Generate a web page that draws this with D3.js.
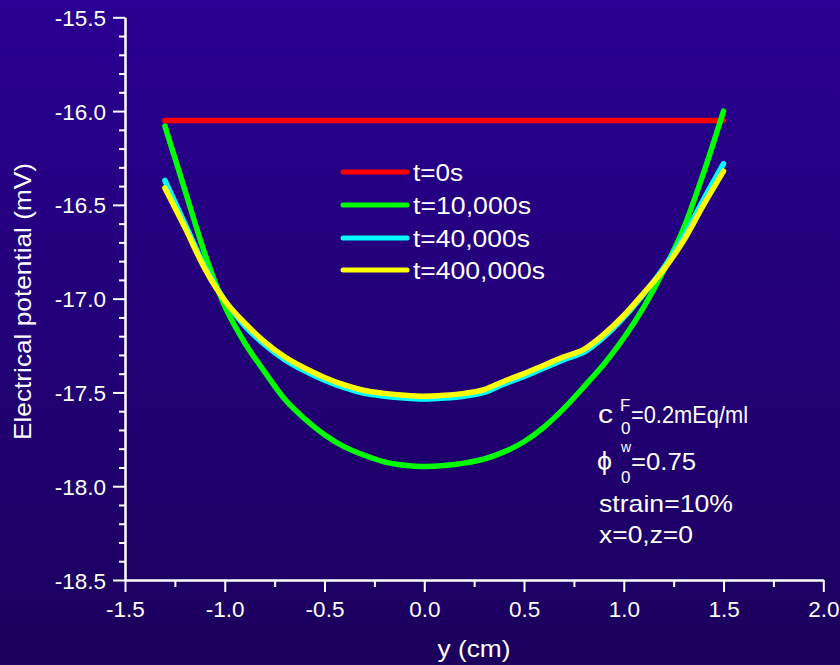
<!DOCTYPE html>
<html><head><meta charset="utf-8">
<script src="https://cdn.jsdelivr.net/npm/d3@7"></script>
<style>html,body{margin:0;padding:0;background:#22007a;} svg{display:block;}</style>
</head><body>
<script>
// ---- data ----
const positions = [-1.3,-1.2,-1.1,-1.0,-0.9,-0.8,-0.7,-0.6,-0.5,-0.4,-0.3,-0.2,-0.1,0.0,0.1,0.2,0.3,0.4,0.5,0.6,0.7,0.8,0.9,1.0,1.1,1.2,1.3,1.4,1.5];
const seriesNames = ["t=0s","t=10,000s","t=40,000s","t=400,000s"];
const t0s = [-16.05,-16.05,-16.05,-16.05,-16.05,-16.05,-16.05,-16.05,-16.05,-16.05,-16.05,-16.05,-16.05,-16.05,-16.05,-16.05,-16.05,-16.05,-16.05,-16.05,-16.05,-16.05,-16.05,-16.05,-16.05,-16.05,-16.05,-16.05,-16.05];
const t10000s = [-16.08,-16.42,-16.76,-17.04,-17.235,-17.39,-17.535,-17.64,-17.725,-17.79,-17.835,-17.87,-17.888,-17.895,-17.89,-17.877,-17.855,-17.817,-17.763,-17.685,-17.585,-17.47,-17.35,-17.21,-17.045,-16.85,-16.625,-16.33,-16.00];
const t40000s = [-16.37,-16.60,-16.83,-17.01,-17.145,-17.245,-17.325,-17.385,-17.435,-17.475,-17.505,-17.52,-17.53,-17.535,-17.53,-17.52,-17.50,-17.455,-17.415,-17.37,-17.325,-17.285,-17.205,-17.10,-16.975,-16.835,-16.67,-16.47,-16.28];
const t400000s = [-16.41,-16.62,-16.84,-17.01,-17.13,-17.23,-17.31,-17.37,-17.42,-17.46,-17.49,-17.505,-17.515,-17.52,-17.515,-17.505,-17.485,-17.44,-17.40,-17.355,-17.31,-17.27,-17.19,-17.09,-16.97,-16.845,-16.69,-16.50,-16.32];
const xTicks = [-1.5,-1.0,-0.5,0.0,0.5,1.0,1.5,2.0];
const yTicks = [-18.5,-18.0,-17.5,-17.0,-16.5,-16.0,-15.5];
const xTickLabels = ["-1.5","-1.0","-0.5","0.0","0.5","1.0","1.5","2.0"];
const yTickLabels = ["-18.5","-18.0","-17.5","-17.0","-16.5","-16.0","-15.5"];
const xTitle = "y (cm)";
const yTitle = "Electrical potential (mV)";

// ---- setup ----
const W = 840, H = 665;
const colors = ["#ff0000","#00ff00","#00ffff","#ffff00"];
const allSeries = [t0s, t10000s, t40000s, t400000s];
const FONT = "'Liberation Sans', Arial, Helvetica, sans-serif";

const svg = d3.select("body").append("svg").attr("width", W).attr("height", H);
const defs = svg.append("defs");
const grad = defs.append("linearGradient").attr("id","bg").attr("x1",0).attr("y1",0).attr("x2",0).attr("y2",1);
grad.append("stop").attr("offset","0%").attr("stop-color","#2a0092");
grad.append("stop").attr("offset","100%").attr("stop-color","#1b005d");
svg.append("rect").attr("width",W).attr("height",H).attr("fill","url(#bg)");

const x = d3.scaleLinear().domain([-1.5, 2.0]).range([125, 823.3]);
const y = d3.scaleLinear().domain([-18.5, -15.5]).range([580, 17.3]);

// minor ticks
const yMinor = d3.range(-18.5, -15.45, 0.1).map(v => +v.toFixed(1)).filter(v => !yTicks.some(t => Math.abs(t - v) < 1e-6));
const xMinor = d3.range(-1.5, 2.01, 0.25).map(v => +v.toFixed(2)).filter(v => !xTicks.some(t => Math.abs(t - v) < 1e-6));

const gY = svg.append("g").attr("transform", "translate(125,0)");
gY.call(d3.axisLeft(y).tickValues(yMinor).tickSize(6).tickSizeOuter(0).tickFormat(""));
gY.append("g").call(d3.axisLeft(y).tickValues(yTicks).tickSize(12).tickSizeOuter(0)
   .tickFormat((d,i) => yTickLabels[i]));
const gX = svg.append("g").attr("transform", "translate(0,580)");
gX.call(d3.axisBottom(x).tickValues(xMinor).tickSize(7).tickSizeOuter(0).tickFormat(""));
gX.append("g").call(d3.axisBottom(x).tickValues(xTicks).tickSize(12).tickSizeOuter(0)
   .tickFormat((d,i) => xTickLabels[i]));

svg.selectAll(".domain").attr("stroke","#ffffff").attr("stroke-width",2);
svg.selectAll(".tick line").attr("stroke","#ffffff").attr("stroke-width",2);
svg.selectAll(".tick text").attr("fill","#ffffff").style("font-family", FONT).style("font-size","22.5px");
gY.selectAll(".tick text").attr("x", -19).attr("dy", "0.36em");
gX.selectAll(".tick text").attr("y", 37).attr("dy", null);

// axis titles
svg.append("text").attr("x", 474).attr("y", 657).attr("text-anchor","middle")
  .attr("fill","#fff").style("font-family",FONT).style("font-size","24px")
  .attr("textLength", 73).attr("lengthAdjust","spacingAndGlyphs").text(xTitle);
svg.append("text").attr("transform","translate(31,301.5) rotate(-90)").attr("text-anchor","middle")
  .attr("fill","#fff").style("font-family",FONT).style("font-size","24px")
  .attr("textLength", 277).attr("lengthAdjust","spacingAndGlyphs").text(yTitle);

// lines
const line = d3.line().x((d,i) => x(positions[i])).y(d => y(d)).curve(d3.curveMonotoneX);
allSeries.forEach((s, k) => {
  svg.append("path").datum(s).attr("d", line).attr("fill","none")
    .attr("stroke", colors[k]).attr("stroke-width", 5.5)
    .attr("stroke-linecap","round").attr("stroke-linejoin","round");
});

// legend
const legendY = [172, 205, 238, 270];
const legendW = [50, 118, 117, 132];
seriesNames.forEach((n, k) => {
  svg.append("line").attr("x1",343).attr("x2",407).attr("y1",legendY[k]).attr("y2",legendY[k])
    .attr("stroke",colors[k]).attr("stroke-width",5).attr("stroke-linecap","round");
  svg.append("text").attr("x",413).attr("y",legendY[k]+9).attr("fill","#fff")
    .style("font-family",FONT).style("font-size","23.5px")
    .attr("textLength", legendW[k]).attr("lengthAdjust","spacingAndGlyphs").text(n);
});

// annotations
function t(xp, yp, str, size, len) {
  const e = svg.append("text").attr("x",xp).attr("y",yp).attr("fill","#fff")
    .style("font-family",FONT).style("font-size",size+"px").text(str);
  if (len) e.attr("textLength",len).attr("lengthAdjust","spacingAndGlyphs");
  return e;
}
t(598, 423, "c", 25, 15);
t(620, 411, "F", 17);
t(621, 434, "0", 17);
t(631, 423, "=0.2mEq/ml", 24, 117);
t(597, 470, "\u03D5", 26, 15);
t(621, 452, "w", 14);
t(621, 483, "0", 17);
t(631, 470, "=0.75", 24, 65);
t(599, 512, "strain=10%", 24, 134);
t(599, 543, "x=0,z=0", 24, 94);
</script>
</body></html>
